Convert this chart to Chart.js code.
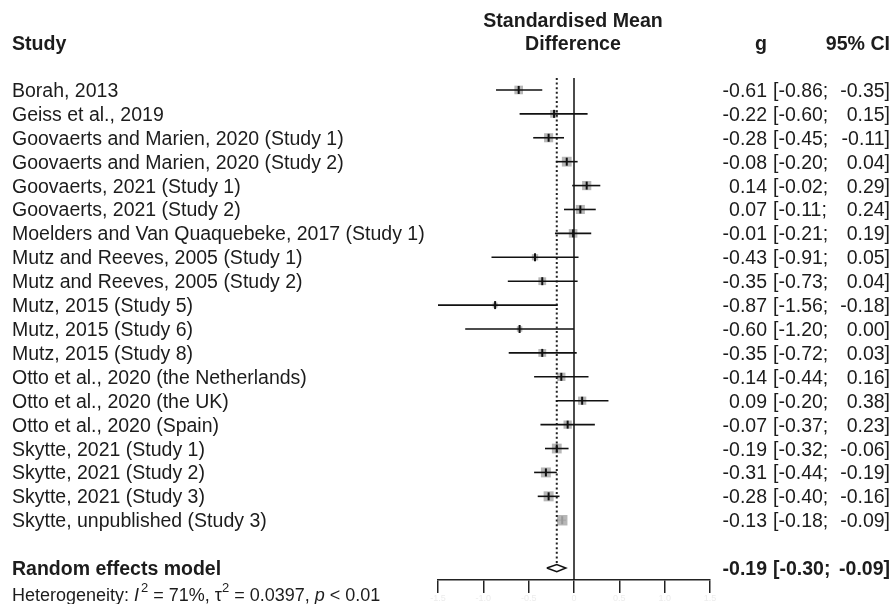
<!DOCTYPE html>
<html>
<head>
<meta charset="utf-8">
<script src="https://cdn.jsdelivr.net/npm/chart.js@4.4.1/dist/chart.umd.min.js"></script>
<style>
  html, body { margin: 0; padding: 0; background: #ffffff; }
  #wrap { width: 893px; height: 604px; position: relative; }
</style>
</head>
<body>
<div id="wrap"><canvas id="c"></canvas></div>
<script>
// ---------- data ----------
const studies = [
  "Borah, 2013",
  "Geiss et al., 2019",
  "Goovaerts and Marien, 2020 (Study 1)",
  "Goovaerts and Marien, 2020 (Study 2)",
  "Goovaerts, 2021 (Study 1)",
  "Goovaerts, 2021 (Study 2)",
  "Moelders and Van Quaquebeke, 2017 (Study 1)",
  "Mutz and Reeves, 2005 (Study 1)",
  "Mutz and Reeves, 2005 (Study 2)",
  "Mutz, 2015 (Study 5)",
  "Mutz, 2015 (Study 6)",
  "Mutz, 2015 (Study 8)",
  "Otto et al., 2020 (the Netherlands)",
  "Otto et al., 2020 (the UK)",
  "Otto et al., 2020 (Spain)",
  "Skytte, 2021 (Study 1)",
  "Skytte, 2021 (Study 2)",
  "Skytte, 2021 (Study 3)",
  "Skytte, unpublished (Study 3)"
];
const gValues = [-0.61, -0.22, -0.28, -0.08, 0.14, 0.07, -0.01, -0.43, -0.35, -0.87, -0.60, -0.35, -0.14, 0.09, -0.07, -0.19, -0.31, -0.28, -0.13];
const ciLower = [-0.86, -0.60, -0.45, -0.20, -0.02, -0.11, -0.21, -0.91, -0.73, -1.56, -1.20, -0.72, -0.44, -0.20, -0.37, -0.32, -0.44, -0.40, -0.18];
const ciUpper = [-0.35, 0.15, -0.11, 0.04, 0.29, 0.24, 0.19, 0.05, 0.04, -0.18, 0.00, 0.03, 0.16, 0.38, 0.23, -0.06, -0.19, -0.16, -0.09];
// approximate study weights (%) read from square sizes
const weights = [5.4, 4.4, 6.0, 7.0, 6.2, 6.0, 5.4, 2.9, 4.4, 1.8, 2.2, 4.5, 5.0, 5.0, 5.0, 7.0, 7.2, 7.3, 8.0];
const pooledLabel = "Random effects model";
const pooledG = -0.19;
const pooledLower = -0.30;
const pooledUpper = -0.09;
const xTicks = [-1.5, -1, -0.5, 0, 0.5, 1, 1.5];
const hetI2 = "71%";
const hetTau2 = "0.0397";
const hetP = "< 0.01";

// ---------- helpers ----------
const fmt = v => v.toFixed(2);
const pooledRow = studies.length + 1;   // one blank row before pooled estimate
const hetRow = pooledRow + 1;
const FONT = "'Liberation Sans', Arial, sans-serif";
const TXT = "#1c1c1c";

const datasets = [];

// reference line at 0
datasets.push({
  data: [{x: 0, y: -0.5}, {x: 0, y: pooledRow + 0.5}],
  showLine: true, borderColor: "#111", borderWidth: 1.5, pointRadius: 0, order: 5
});
// dotted pooled-effect line
datasets.push({
  data: [{x: pooledG, y: -0.5}, {x: pooledG, y: pooledRow - 0.16}],
  showLine: true, borderColor: "#222", borderWidth: 2, borderDash: [2, 2.6], pointRadius: 0, order: 5
});
// weight squares
datasets.push({
  data: gValues.map((v, i) => ({x: v, y: i})),
  pointStyle: "rect",
  pointRadius: weights.map(w => 3.7 * Math.sqrt(w) / Math.SQRT2),
  backgroundColor: "rgba(170,170,170,0.85)",
  borderWidth: 0, order: 10
});
// CI lines
studies.forEach((s, i) => {
  datasets.push({
    data: [{x: ciLower[i], y: i}, {x: ciUpper[i], y: i}],
    showLine: true, borderColor: i === studies.length - 1 ? "#aaa" : "#111",
    borderWidth: 1.6, pointRadius: 0, order: 4
  });
});
// point-estimate ticks
datasets.push({
  data: gValues.map((v, i) => ({x: v, y: i})),
  pointStyle: "line", rotation: 90, pointRadius: 4,
  borderColor: gValues.map((v, i) => i === studies.length - 1 ? "#999" : "#111"),
  borderWidth: 2, order: 3
});
// pooled diamond
datasets.push({
  data: [
    {x: pooledLower, y: pooledRow},
    {x: pooledG, y: pooledRow - 0.15},
    {x: pooledUpper, y: pooledRow},
    {x: pooledG, y: pooledRow + 0.15},
    {x: pooledLower, y: pooledRow}
  ],
  showLine: true, borderColor: "#111", borderWidth: 1.5, backgroundColor: "#fff",
  fill: false, pointRadius: 0, tension: 0, order: 1
});

const textPlugin = {
  id: "forestText",
  afterDraw(chart) {
    const ctx = chart.ctx;
    const ys = chart.scales.y;
    ctx.save();
    ctx.fillStyle = TXT;
    ctx.textBaseline = "alphabetic";
    // headers
    ctx.font = "bold 19.6px " + FONT;
    ctx.textAlign = "left";
    ctx.fillText("Study", 12, 50);
    ctx.textAlign = "center";
    ctx.fillText("Standardised Mean", 573, 27);
    ctx.fillText("Difference", 573, 50);
    ctx.textAlign = "right";
    ctx.fillText("g", 767, 50);
    ctx.fillText("95% CI", 890, 50);

    // study rows
    ctx.font = "19.5px " + FONT;
    studies.forEach((s, i) => {
      const y = ys.getPixelForValue(i) + 7;
      ctx.textAlign = "left";
      ctx.fillText(s, 12, y);
      ctx.textAlign = "right";
      ctx.fillText(fmt(gValues[i]), 767, y);
      ctx.textAlign = "left";
      ctx.fillText("[" + fmt(ciLower[i]) + ";", 773, y);
      ctx.textAlign = "right";
      ctx.fillText(fmt(ciUpper[i]) + "]", 890, y);
    });

    // pooled row
    const yp = ys.getPixelForValue(pooledRow) + 7;
    ctx.font = "bold 19.5px " + FONT;
    ctx.textAlign = "left";
    ctx.fillText(pooledLabel, 12, yp);
    ctx.textAlign = "right";
    ctx.fillText(fmt(pooledG), 767, yp);
    ctx.textAlign = "left";
    ctx.fillText("[" + fmt(pooledLower) + ";", 773, yp);
    ctx.textAlign = "right";
    ctx.fillText(fmt(pooledUpper) + "]", 890, yp);

    // heterogeneity line
    const yh = ys.getPixelForValue(hetRow) + 9;
    ctx.textAlign = "left";
    let x = 12;
    const seg = (t, font, dy) => {
      ctx.font = font;
      ctx.fillText(t, x, yh + (dy || 0));
      x += ctx.measureText(t).width;
    };
    const reg = "18px " + FONT, ital = "italic 18px " + FONT, sup = "13px " + FONT;
    seg("Heterogeneity: ", reg);
    seg("I", ital);
    x += 2;
    seg("2", sup, -9);
    seg(" = " + hetI2 + ", ", reg);
    seg("\u03C4", reg);
    seg("2", sup, -9);
    seg(" = " + hetTau2 + ", ", reg);
    seg("p", ital);
    seg(" " + hetP, reg);
    ctx.restore();
  }
};

new Chart(document.getElementById("c"), {
  type: "scatter",
  data: { datasets },
  options: {
    responsive: true,
    maintainAspectRatio: false,
    animation: false,
    events: [],
    layout: { padding: { left: 438, right: 183, top: 78, bottom: 0 } },
    plugins: { legend: { display: false }, tooltip: { enabled: false } },
    elements: { line: { tension: 0 } },
    scales: {
      x: {
        type: "linear",
        position: "bottom",
        min: xTicks[0],
        max: xTicks[xTicks.length - 1],
        afterBuildTicks: s => { s.ticks = xTicks.map(v => ({ value: v })); },
        afterFit: s => { s.height = 24; },
        ticks: { color: "#ececec", font: { size: 9, family: FONT }, padding: 0, maxRotation: 0, autoSkip: false },
        grid: { drawOnChartArea: false, drawTicks: true, tickLength: 13, color: "#222", lineWidth: 1.5 },
        border: { display: true, color: "#222", width: 1.5 }
      },
      y: {
        type: "linear",
        display: false,
        reverse: true,
        min: -0.5,
        max: pooledRow + 0.5
      }
    }
  },
  plugins: [textPlugin]
});
</script>
</body>
</html>
